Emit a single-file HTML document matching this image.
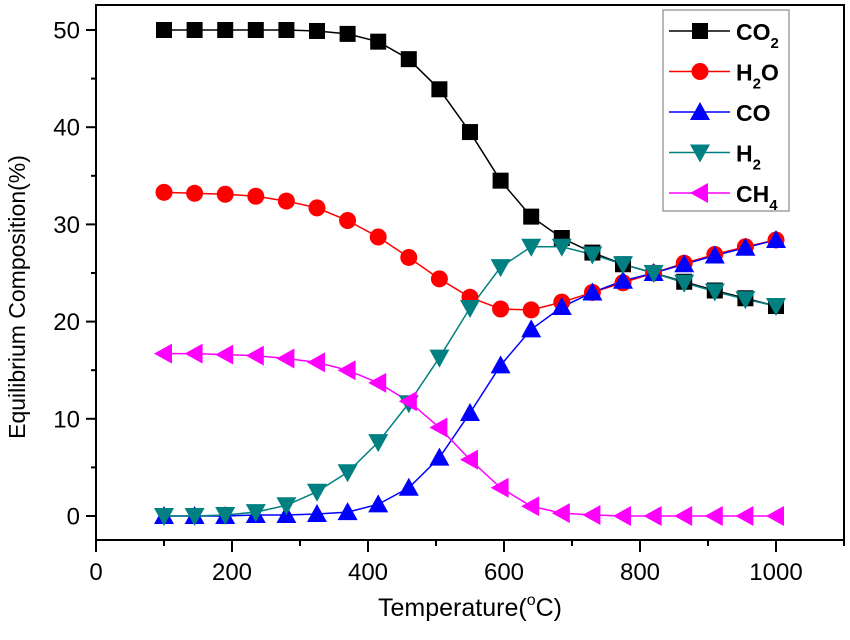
<!DOCTYPE html>
<html><head><meta charset="utf-8"><style>
html,body{margin:0;padding:0;background:#fff;}
svg{display:block;font-family:"Liberation Sans",Arial,sans-serif;}
</style></head><body>
<svg id="s" width="850" height="640" viewBox="0 0 850 640" xmlns="http://www.w3.org/2000/svg">
<rect x="96" y="5" width="748" height="535" fill="none" stroke="#000" stroke-width="2"/>
<g id="ax" stroke="#000" stroke-width="2"></g>
<g id="lab" font-size="24" fill="#000"></g>
<text x="470" y="616" font-size="25" text-anchor="middle">Temperature(<tspan font-size="16" dy="-11">o</tspan><tspan dy="11">C)</tspan></text>
<text transform="translate(25,297) rotate(-90)" font-size="23" text-anchor="middle">Equilibrium Composition(%)</text>
<g id="plot"></g>
<g id="leg"></g>
</svg>
<script>
const NS="http://www.w3.org/2000/svg";
function el(p,t,a,txt){const e=document.createElementNS(NS,t);for(const k in a)e.setAttribute(k,a[k]);if(txt!=null)e.textContent=txt;p.appendChild(e);return e;}
const X=v=>96+v*0.68, Y=v=>516-v*9.72;
const ax=document.getElementById('ax'),lab=document.getElementById('lab');
for(let v=0;v<=1100;v+=100){const x=X(v);el(ax,'line',{x1:x,y1:540,x2:x,y2:v%200==0?552:546});
 if(v%200==0&&v<=1000)el(lab,'text',{x:x,y:580,'text-anchor':'middle'},v);}
for(let v=0;v<=50;v+=5){const y=Y(v);el(ax,'line',{x1:96,y1:y,x2:v%10==0?86:91,y2:y});
 if(v%10==0)el(lab,'text',{x:80,y:y+8.5,'text-anchor':'end'},v);}
const xs=[];for(let i=0;i<21;i++)xs.push(100+45*i);
const S=[
{c:'#000',m:'sq',d:[50,50,50,50,50,49.9,49.6,48.8,47,43.9,39.5,34.5,30.8,28.6,27.1,25.9,25,24.1,23.2,22.4,21.6]},
{c:'#ff0000',m:'ci',d:[33.3,33.2,33.1,32.9,32.4,31.7,30.4,28.7,26.6,24.4,22.5,21.3,21.2,22,23,24,25,26,26.9,27.7,28.4]},
{c:'#0000ff',m:'up',d:[0,0,0,0.1,0.1,0.2,0.4,1.2,2.9,6,10.6,15.5,19.2,21.5,23,24.2,25,25.9,26.8,27.6,28.4]},
{c:'#008080',m:'dn',d:[0,0,0.1,0.4,1.1,2.5,4.5,7.6,11.6,16.3,21.4,25.6,27.7,27.7,26.9,25.9,25,24,23.1,22.3,21.6]},
{c:'#ff00ff',m:'lf',d:[16.7,16.7,16.6,16.5,16.2,15.8,15,13.7,11.8,9.1,5.8,2.9,1,0.3,0.1,0,0,0,0,0,0]}];
function mk(g,m,x,y,c){
 if(m=='sq')el(g,'rect',{x:x-8,y:y-8,width:16,height:16,fill:c});
 else if(m=='ci')el(g,'circle',{cx:x,cy:y,r:8.5,fill:c});
 else if(m=='up')el(g,'polygon',{points:`${x},${y-10} ${x-10},${y+8} ${x+10},${y+8}`,fill:c});
 else if(m=='dn')el(g,'polygon',{points:`${x},${y+10} ${x-10},${y-8} ${x+10},${y-8}`,fill:c});
 else el(g,'polygon',{points:`${x-10},${y} ${x+8},${y-10} ${x+8},${y+10}`,fill:c});}
const P=document.getElementById('plot');
S.forEach(s=>{el(P,'polyline',{points:xs.map((x,i)=>X(x)+','+Y(s.d[i])).join(' '),fill:'none',stroke:s.c,'stroke-width':1.5});});
S.forEach(s=>{xs.forEach((x,i)=>mk(P,s.m,X(x),Y(s.d[i]),s.c));});
const L=document.getElementById('leg');
el(L,'rect',{x:663,y:10,width:126,height:201,fill:'#fff',stroke:'#888','stroke-width':1.2});
const names=[['CO','2'],['H','2','O'],['CO'],['H','2'],['CH','4']];
S.forEach((s,i)=>{const y=31+i*40.5;
 el(L,'line',{x1:669,y1:y,x2:730,y2:y,stroke:s.c,'stroke-width':1.5});mk(L,s.m,700,y,s.c);
 const t=el(L,'text',{x:736,y:y+9,'font-size':23,'font-weight':'bold'});
 const n=names[i];el(t,'tspan',{},n[0]);
 if(n[1]){el(t,'tspan',{'font-size':15,dy:8},n[1]);}
 if(n[2]){el(t,'tspan',{dy:-8},n[2]);}
});
</script>
</body></html>
